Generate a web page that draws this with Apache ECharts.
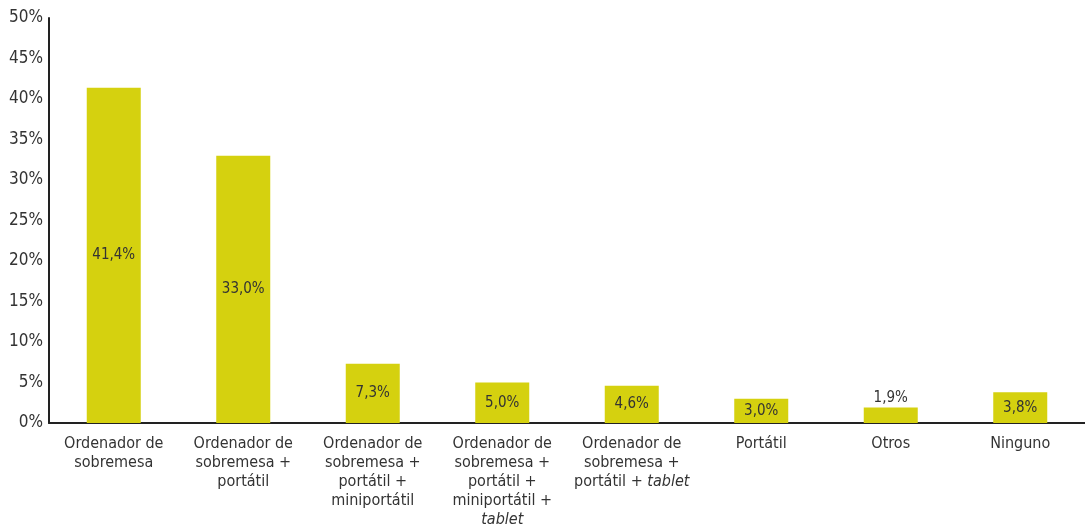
<!DOCTYPE html>
<html>
<head>
<meta charset="utf-8">
<script src="https://cdn.jsdelivr.net/npm/echarts@6/dist/echarts.min.js"></script>
<style>
  html, body { margin: 0; padding: 0; background: #fff; }
  #chart { width: 1085px; height: 529px; }
</style>
</head>
<body>
<div id="chart"></div>
<script>
// Device categories (the word "tablet" is set in italics)
const categories = [
  'Ordenador de\nsobremesa',
  'Ordenador de\nsobremesa +\nportátil',
  'Ordenador de\nsobremesa +\nportátil +\nminiportátil',
  'Ordenador de\nsobremesa +\nportátil +\nminiportátil +\ntablet',
  'Ordenador de\nsobremesa +\nportátil + tablet',
  'Portátil',
  'Otros',
  'Ninguno'
];
// Share of households, in percent
const values = [41.4, 33.0, 7.3, 5.0, 4.6, 3.0, 1.9, 3.8];
// Bars whose label sits above the bar instead of inside
const labelsOnTop = ['Otros'];
// Value axis ticks
const yMin = 0, yMax = 50, yStep = 5;

const FONT = "'Liberation Sans Narrow', 'DejaVu Sans Condensed', 'Roboto Condensed', sans-serif";
const TEXT = '#333333';
const BAR = '#d5d10f';

const fmtPct = v => v.toFixed(1).replace('.', ',') + '%';

const chart = echarts.init(document.getElementById('chart'));
chart.setOption({
  animation: false,
  grid: { left: 49, right: 0, top: 18, bottom: 102, containLabel: false },
  xAxis: {
    type: 'category',
    data: categories,
    offset: 2,
    axisLine: { show: true, lineStyle: { color: '#222', width: 2 } },
    axisTick: { show: false },
    axisLabel: {
      interval: 0,
      margin: 9,
      color: TEXT,
      fontFamily: FONT,
      fontSize: 16,
      lineHeight: 19,
      formatter: v => v.split('\n').map(line =>
        line.replace(/(.*)tablet/, (m, pre) => (pre ? '{n|' + pre + '}' : '') + '{i|tablet}')
            .replace(/^(?!\{)(.*)$/, '{n|$1}')
      ).join('\n'),
      rich: {
        n: { color: TEXT, fontFamily: FONT, fontSize: 16, lineHeight: 19 },
        i: { color: TEXT, fontFamily: FONT, fontSize: 16, lineHeight: 19, fontStyle: 'italic' }
      }
    }
  },
  yAxis: {
    type: 'value',
    min: yMin,
    max: yMax,
    interval: yStep,
    axisLine: { show: true, lineStyle: { color: '#222', width: 2 } },
    axisTick: { show: false },
    splitLine: { show: false },
    axisLabel: {
      margin: 6,
      color: TEXT,
      fontFamily: FONT,
      fontSize: 17,
      formatter: v => v + '%'
    }
  },
  series: [{
    type: 'bar',
    data: values.map((v, i) => ({
      value: v,
      label: labelsOnTop.includes(categories[i])
        ? { position: 'top', distance: 2 }
        : { position: 'inside' }
    })),
    barWidth: 54,
    itemStyle: { color: BAR },
    label: {
      show: true,
      color: TEXT,
      fontFamily: FONT,
      fontSize: 15,
      formatter: p => fmtPct(p.value)
    }
  }]
});
</script>
</body>
</html>
